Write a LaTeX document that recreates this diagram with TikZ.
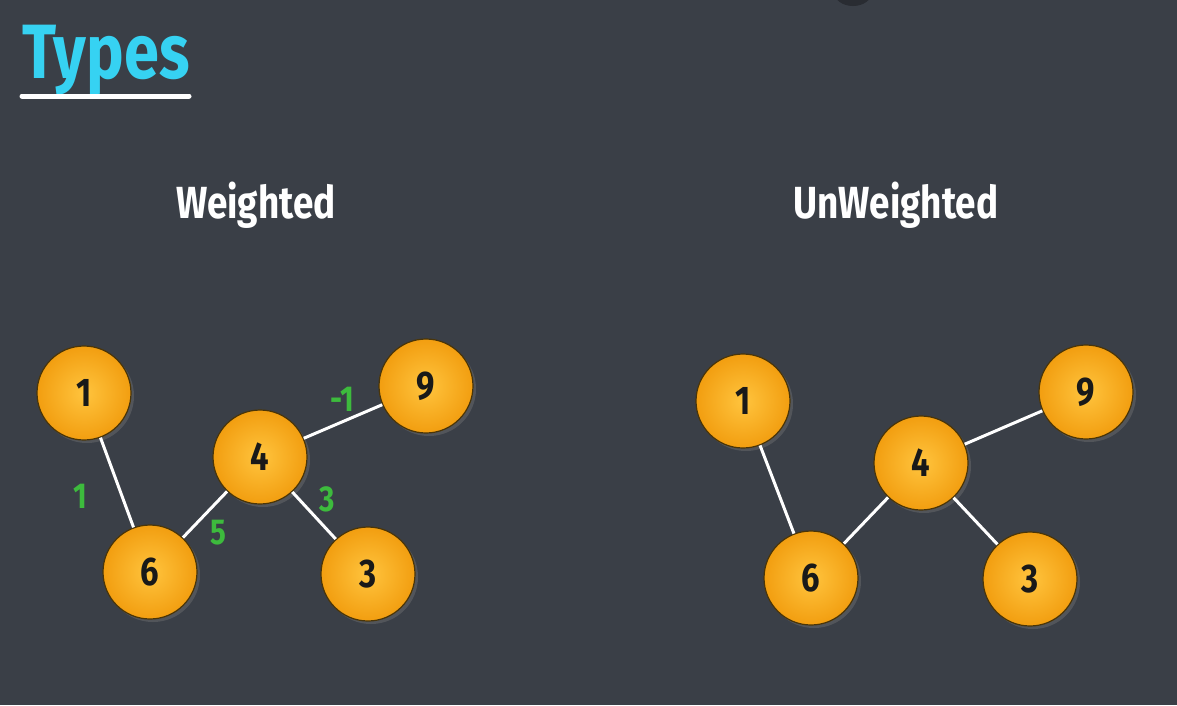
\documentclass[tikz,border=0pt]{standalone}
\usepackage{fontspec}
\setmainfont{Fira Sans}
\newfontfamily\cond[FakeStretch=0.82]{Fira Sans}
\usetikzlibrary{shadows}
\definecolor{bg}{HTML}{3A3F47}
\definecolor{cyantitle}{HTML}{36D2F2}
\definecolor{wgreen}{HTML}{3DBB3D}
\definecolor{nodein}{HTML}{FFC43E}
\definecolor{nodeout}{HTML}{F29E10}
\definecolor{rimcol}{HTML}{4A3508}
\tikzset{
  vert/.style={circle, minimum size=94pt, inner sep=0pt, shade, inner color=nodein, outer color=nodeout,
    draw=rimcol, line width=1.2pt, font=\cond\bfseries\fontsize{40}{40}\selectfont, text=black!90,
    drop shadow={shadow xshift=3pt, shadow yshift=-3pt, opacity=0.35}},
  edge/.style={draw=white, line width=3pt},
  weight/.style={text=wgreen, font=\cond\bfseries\fontsize{36}{36}\selectfont},
  heading/.style={text=white, font=\cond\bfseries\fontsize{45}{45}\selectfont}
}
\begin{document}
\begin{tikzpicture}[x=1pt,y=-1pt]
\fill[bg] (0,0) rectangle (1177,705);
\useasboundingbox (0,0) rectangle (1177,705);
\fill[black!30!bg] (853,-8) ellipse [x radius=19, y radius=14];
% title
\node[text=cyantitle, font=\cond\bfseries\fontsize{77}{77}\selectfont, anchor=base west, inner sep=0pt] (title) at (22,78) {Types};
\draw[white, line width=5pt, line cap=round] (22,96) -- (189,96);
% headings
\node[heading] (hw) at (256,205) {Weighted};
\node[heading] (hu) at (896,205) {UnWeighted};
% weighted graph
\node[vert] (a1) at (84,393) {1};
\node[vert] (a9) at (426,386) {9};
\node[vert] (a4) at (260,457) {4};
\node[vert] (a6) at (150,572) {6};
\node[vert] (a3) at (368,574) {3};
% unweighted graph
\node[vert] (b1) at (743,401) {1};
\node[vert] (b9) at (1086,392) {9};
\node[vert] (b4) at (921,463) {4};
\node[vert] (b6) at (811,578) {6};
\node[vert] (b3) at (1030,579) {3};
% edges
\draw[edge] (a1) -- (a6);
\draw[edge] (a6) -- (a4);
\draw[edge] (a4) -- (a3);
\draw[edge] (a4) -- (a9);
\draw[edge] (b1) -- (b6);
\draw[edge] (b6) -- (b4);
\draw[edge] (b4) -- (b3);
\draw[edge] (b4) -- (b9);
% weights
\node[weight] (w1) at (80,496) {1};
\node[weight] (w5) at (218,533) {5};
\node[weight] (w3) at (327,499) {3};
\node[weight] (wm1) at (342,399) {-1};
\end{tikzpicture}
\end{document}
